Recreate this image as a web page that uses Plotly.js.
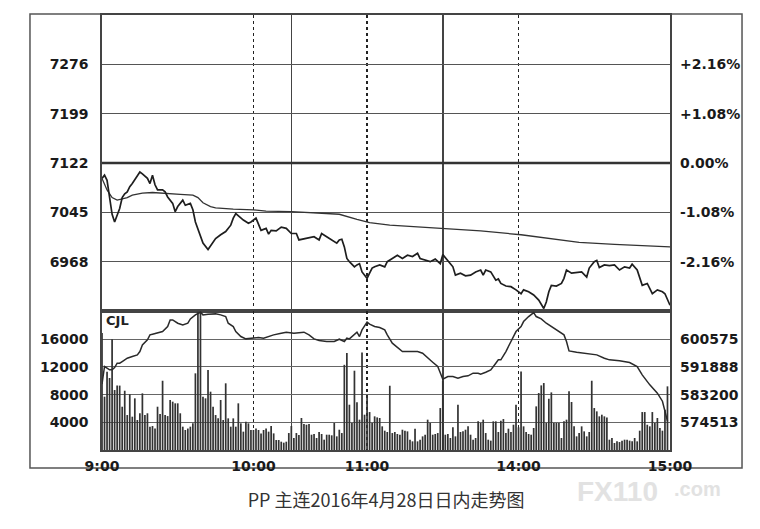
<!DOCTYPE html>
<html><head><meta charset="utf-8">
<script src="https://cdn.plot.ly/plotly-3.0.1.min.js"></script>
<style>html,body{margin:0;padding:0;background:#fff;}#chart{width:760px;height:529px;}</style>
</head><body><div id="chart"></div>
<script>
// minutes since 9:00 on the trading-session clock (9:00-10:15, 10:30-11:30, 13:30-15:00)
const sessionEnd = 225;
const sessionBreaks = [75, 135];
const xTickVals = [0, 60, 105, 165, 225];
const xTickText = ['9:00', '10:00', '11:00', '14:00', '15:00'];

const prevClose = 7122;
const priceTicks = [7276, 7199, 7122, 7045, 6968];
const pctTicks = ['+2.16%', '+1.08%', '0.00%', '-1.08%', '-2.16%'];
const volTicks = [16000, 12000, 8000, 4000];
const oiTicks = [600575, 591888, 583200, 574513];

const priceMin = [0,1,2,3,4,5,6,7,8,9,10,11,12,14,15,16,18,19,20,21,22,24,25,26,28,29,30,32,33,35,36,37,39,40,42,44,45,47,49,51,52,53,55,56,58,59,61,62,63,65,66,67,69,71,73,75,77,78,80,82,84,86,87,89,91,93,94,95,96,97,98,100,101,102,103,105,106,107,108,110,112,113,115,117,119,121,123,125,126,128,130,132,134,135,137,139,140,142,144,146,148,150,151,152,154,156,157,158,160,162,164,166,167,169,171,173,175,176,177,178,180,182,183,184,186,188,190,192,193,195,196,197,199,201,203,205,207,209,210,212,213,214,216,217,218,220,222,223,224,225];
const priceVal = [7098,7103,7095,7069,7042,7030,7040,7051,7068,7074,7077,7085,7090,7101,7108,7105,7098,7090,7103,7088,7080,7080,7077,7069,7059,7046,7054,7064,7056,7059,7049,7030,7007,6997,6987,6999,7004,7010,7015,7025,7036,7043,7036,7033,7028,7030,7036,7025,7017,7020,7011,7017,7016,7022,7020,7012,7012,7002,7004,7006,7007,7002,7012,7007,7002,6997,7002,7003,6991,6973,6968,6960,6963,6965,6952,6942,6950,6958,6960,6963,6960,6968,6973,6978,6973,6978,6976,6981,6973,6970,6968,6972,6965,6979,6970,6960,6947,6950,6946,6947,6952,6955,6947,6955,6952,6939,6941,6934,6930,6929,6924,6918,6924,6921,6916,6908,6895,6905,6921,6931,6930,6934,6942,6955,6950,6951,6952,6944,6958,6968,6970,6959,6963,6962,6963,6955,6960,6958,6964,6955,6944,6931,6934,6926,6918,6924,6921,6918,6908,6900];

const avgMin = [0,2,4,6,8,10,12,16,20,26,31,36,38,40,43,45,52,60,65,75,94,101,106,114,127,137,150,166,174,178,189,203,225];
const avgVal = [7098,7080,7068,7064,7066,7068,7072,7075,7076,7075,7073,7072,7068,7060,7054,7052,7050,7049,7047,7046,7042,7034,7029,7025,7022,7019,7016,7010,7006,7003,6998,6995,6991];

const oiMin = [0,1,2,3,4,5,6,7,8,10,12,14,15,16,18,19,20,22,24,26,27,28,30,32,34,35,37,39,40,42,45,47,49,50,52,53,55,57,60,62,64,66,68,71,73,76,80,82,84,86,89,92,94,96,97,98,100,101,102,103,105,106,108,110,112,113,115,117,119,122,125,127,129,131,133,135,137,139,141,143,145,147,149,150,152,154,156,157,158,160,162,164,166,167,169,171,172,174,176,178,181,183,184,185,188,192,196,199,201,205,209,212,214,217,220,222,223,224];
const oiVal = [586500,592006,591483,590961,590961,591693,593051,593051,593574,594619,595141,595664,596708,598799,600366,601934,602143,602456,602979,604546,606636,606636,605591,605068,605591,606949,608203,609039,608203,608412,608517,608203,607680,605591,604546,602979,601411,600680,600889,601097,600889,601411,601934,602456,602770,602456,602770,601934,600680,600157,599844,599844,600575,599844,600889,600680,601934,602770,601411,603501,605904,605277,604546,604232,603501,601934,599321,597963,596708,596708,596708,596186,594619,593365,592006,588035,588871,588871,588348,588871,589080,589916,589916,589603,590230,590961,593051,594096,594096,596708,599844,602979,604546,606114,607680,608935,607680,606949,605591,604546,602979,601934,599844,596917,596499,596186,595664,594619,594096,593782,593260,592006,589394,586259,583647,581131,577997,574861];

const volVal = [
16900,7700,11300,10400,16000,8660,9300,9300,6250,8560,
5050,8040,4810,7460,4330,5300,8180,5050,5300,3370,
3460,3100,6250,5200,10000,5050,4900,7220,6980,6740,
6740,5300,3370,2890,3100,3370,3850,11070,19970,19970,
7700,7460,11550,8420,6250,5050,4570,7220,4330,9630,
4570,3370,4570,3370,6740,3850,2650,4090,3850,2890,
2890,3100,2890,2400,2890,3100,2650,3460,2400,1440,
1440,1200,1060,1200,2450,3460,1730,2450,2170,4620,
3750,3650,3750,2210,2310,1730,2600,2310,1490,2210,
2210,2120,3900,1970,2930,2450,12300,14000,6540,3900,
11450,6880,4380,14090,5100,7890,5480,3900,4860,4710,
4620,3415,2790,2600,9280,2450,2600,2310,2210,2930,
2790,2690,1490,1250,3080,1250,1490,1970,2210,4380,
3900,2210,2310,2450,6060,10000,2210,2310,1730,3270,
1970,6540,2600,2690,2930,3415,2210,1490,1730,4140,
3900,4380,2450,1490,1350,4140,4140,2600,4230,4470,
2450,3080,2600,3650,6540,3270,11350,3415,2600,2310,
2210,3175,6300,8225,9330,9670,3900,7400,8320,3900,
3900,3900,1730,4140,4380,8470,6930,3415,1970,2450,
3415,2690,1970,2600,10000,6060,5580,4860,5100,4860,
4710,1490,1730,1010,1250,1150,1350,1490,1490,1350,
1250,1730,1250,2790,5480,5480,3650,3415,5480,3900,
4620,3175,2790,5820,9190];
const volMin = volVal.map((v, i) => i);

const titleText = 'PP 主连2016年4月28日日内走势图';

// ---------- drawing ----------
const priceRange = [6891, 7353];
const volRange = [0, 20070];
const oiRange = [565825, 609414];
const splitY = 0.3195;

const tickFont = {family: 'DejaVu Sans', size: 14, color: '#1a1a1a', weight: 'bold'};
const lineCol = '#444';

const traces = [
  {type: 'bar', x: volMin, y: volVal, xaxis: 'x', yaxis: 'y2', width: 0.68,
   marker: {color: '#333', line: {width: 0}}, hoverinfo: 'skip', showlegend: false},
  {type: 'scatter', mode: 'lines', x: oiMin, y: oiVal, xaxis: 'x', yaxis: 'y4',
   line: {color: '#2a2a2a', width: 1.5}, hoverinfo: 'skip', showlegend: false},
  {type: 'scatter', mode: 'lines', x: [0, sessionEnd], y: [prevClose, prevClose], xaxis: 'x', yaxis: 'y3',
   line: {color: '#333', width: 2.6}, hoverinfo: 'skip', showlegend: false},
  {type: 'scatter', mode: 'lines', x: avgMin, y: avgVal, xaxis: 'x', yaxis: 'y',
   line: {color: '#333', width: 1.3}, hoverinfo: 'skip', showlegend: false},
  {type: 'scatter', mode: 'lines', x: priceMin, y: priceVal, xaxis: 'x', yaxis: 'y',
   line: {color: '#1e1e1e', width: 1.7}, hoverinfo: 'skip', showlegend: false}
];

const layout = {
  width: 760, height: 529,
  margin: {l: 102, r: 90, t: 15, b: 79, pad: 0},
  paper_bgcolor: '#fff', plot_bgcolor: '#fff',
  showlegend: false,
  title: {text: titleText, font: {family: 'Noto Sans CJK SC', size: 18, color: '#333'},
          x: 0.508, xanchor: 'center', xref: 'container', y: 0.054, yref: 'container', yanchor: 'middle'},
  xaxis: {range: [0, sessionEnd], anchor: 'y2', domain: [0, 1],
          tickmode: 'array', tickvals: xTickVals, ticktext: xTickText,
          showgrid: true, gridcolor: '#222', gridwidth: 1.2, griddash: 'dot',
          minor: {tickmode: 'array', tickvals: sessionBreaks, showgrid: true, gridcolor: '#444', gridwidth: 1.5, griddash: 'solid', ticks: ''},
          showline: true, mirror: 'all', linecolor: lineCol, linewidth: 1.6,
          ticks: '', ticklabelstandoff: 3, tickfont: tickFont, zeroline: false, fixedrange: true},
  yaxis: {domain: [splitY, 1], range: priceRange, tickmode: 'array', tickvals: priceTicks,
          ticktext: priceTicks.map(String),
          showgrid: true, gridcolor: '#555', gridwidth: 1.2,
          showline: true, mirror: true, linecolor: lineCol, linewidth: 1.6,
          ticks: '', ticklabelstandoff: 9, tickfont: tickFont, zeroline: false, fixedrange: true},
  yaxis3: {overlaying: 'y', side: 'right', anchor: 'x', range: priceRange, tickmode: 'array',
          tickvals: priceTicks, ticktext: pctTicks, showgrid: false, showline: false,
          ticks: '', ticklabelstandoff: 9, tickfont: tickFont, zeroline: false, fixedrange: true},
  yaxis2: {domain: [0, splitY], range: volRange, tickmode: 'array', tickvals: volTicks,
          ticktext: volTicks.map(String),
          showgrid: true, gridcolor: '#666', gridwidth: 1.1,
          showline: true, mirror: true, linecolor: lineCol, linewidth: 1.6,
          ticks: '', ticklabelstandoff: 9, tickfont: tickFont, zeroline: false, fixedrange: true},
  yaxis4: {overlaying: 'y2', side: 'right', anchor: 'x', range: oiRange, tickmode: 'array',
          tickvals: oiTicks, ticktext: oiTicks.map(String), showgrid: false, showline: false,
          ticks: '', ticklabelstandoff: 9, tickfont: tickFont, zeroline: false, fixedrange: true},
  annotations: [
    {text: 'CJL', xref: 'x domain', yref: 'y2 domain', x: 0.004, y: 0.93, xanchor: 'left', yanchor: 'middle',
     showarrow: false, font: {family: 'DejaVu Sans', size: 13, color: '#222', weight: 'bold'}},
    {text: 'FX110', xref: 'paper', yref: 'paper', x: 0.835, y: -0.057, xanchor: 'left', yanchor: 'top',
     showarrow: false, borderpad: 0, font: {family: 'Liberation Sans', size: 28, color: '#e2e2e2', weight: 'bold'}},
    {text: '.com', xref: 'paper', yref: 'paper', x: 1.005, y: -0.062, xanchor: 'left', yanchor: 'top',
     showarrow: false, borderpad: 0, font: {family: 'Liberation Sans', size: 20, color: '#e2e2e2', weight: 'bold'}}
  ],
  shapes: [
    {type: 'rect', xref: 'paper', yref: 'paper', x0: -0.1268, x1: 1.1268, y0: -0.0414, y1: 1.0023,
     line: {color: '#555', width: 1.5}, fillcolor: 'rgba(0,0,0,0)', layer: 'below'}
  ]
};

Plotly.newPlot('chart', traces, layout, {displayModeBar: false, staticPlot: true});
</script>
</body></html>
